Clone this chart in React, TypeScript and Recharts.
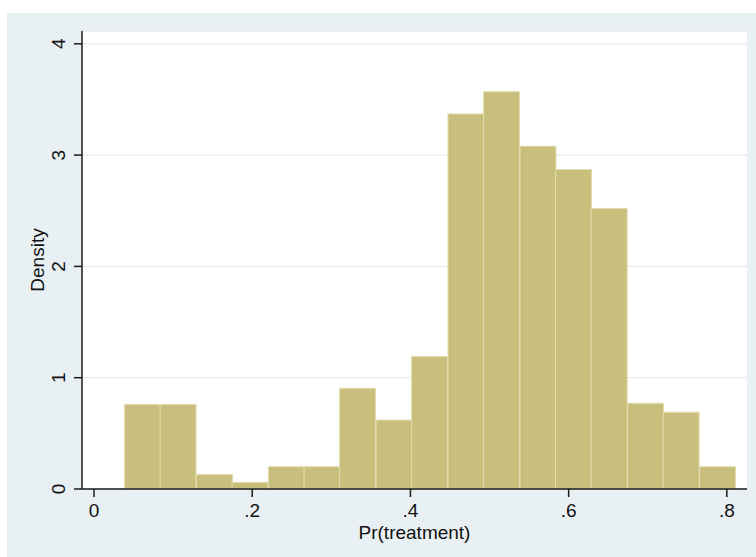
import { BarChart, Bar, XAxis, YAxis, CartesianGrid, Label } from 'recharts'

// histogram bins (midpoints) and densities
const binMids = [0.061, 0.106, 0.152, 0.197, 0.243, 0.288, 0.333, 0.379, 0.424, 0.47, 0.515, 0.561, 0.606, 0.651, 0.697, 0.742, 0.788]
const densities = [0.76, 0.76, 0.13, 0.06, 0.2, 0.2, 0.905, 0.62, 1.19, 3.37, 3.57, 3.08, 2.87, 2.52, 0.77, 0.69, 0.2]
const xTicks = [0, 0.2, 0.4, 0.6, 0.8]
const yTicks = [0, 1, 2, 3, 4]

const data = binMids.map((mid, i) => ({ mid, density: densities[i] }))

const FONT = '"Liberation Sans", Arial, sans-serif'
const FS = 19

const fmtX = (v: number) => (v === 0 ? '0' : String(v).replace(/^0/, ''))

function YTick(props: any) {
  const { x, y, payload } = props
  return (
    <text
      x={x}
      y={y}
      transform={`rotate(-90 ${x} ${y})`}
      textAnchor="middle"
      fontSize={FS}
      fontFamily={FONT}
      fill="#111"
    >
      {payload.value}
    </text>
  )
}

export default function App() {
  return (
    <div style={{ position: 'absolute', left: 0, top: 0, width: 756, height: 557, background: '#fff' }}>
      <div style={{ position: 'absolute', left: 7, top: 13, width: 749, height: 544, background: '#e9f0f4' }} />
      <div style={{ position: 'absolute', left: 82, top: 31, width: 665, height: 458, background: '#fff' }} />
      <div style={{ position: 'absolute', left: 0, top: 0 }}>
        <BarChart
          width={756}
          height={557}
          data={data}
          margin={{ top: 31, right: 9, bottom: 18, left: 32 }}
          barCategoryGap={0}
          barGap={0}
        >
          <CartesianGrid horizontal vertical={false} stroke="#e6e6e6" strokeWidth={1} />
          <XAxis
            dataKey="mid"
            type="number"
            domain={[-0.0152, 0.8255]}
            ticks={xTicks}
            tickFormatter={fmtX}
            height={50}
            tickSize={8}
            tickMargin={7}
            stroke="#1a1a1a"
            strokeWidth={1.5}
            tick={{ fill: '#111', fontSize: FS, fontFamily: FONT }}
            allowDataOverflow
          >
            <Label value="Pr(treatment)" position="insideBottom" offset={0} fontSize={FS} fontFamily={FONT} fill="#111" />
          </XAxis>
          <YAxis
            type="number"
            domain={[0, 4.115]}
            ticks={yTicks}
            width={50}
            tickSize={8}
            tickMargin={9}
            stroke="#1a1a1a"
            strokeWidth={1.5}
            tick={<YTick />}
            allowDataOverflow
          >
            <Label
              content={(p: any) => {
                const vb = p.viewBox
                const x = 44
                const y = vb.y + vb.height / 2
                return (
                  <text x={x} y={y} transform={`rotate(-90 ${x} ${y})`} textAnchor="middle" fontSize={FS} fontFamily={FONT} fill="#111">
                    Density
                  </text>
                )
              }}
            />
          </YAxis>
          <Bar dataKey="density" fill="#c9bf7c" stroke="#e2ddb0" strokeWidth={1} isAnimationActive={false} />
        </BarChart>
      </div>
    </div>
  )
}
